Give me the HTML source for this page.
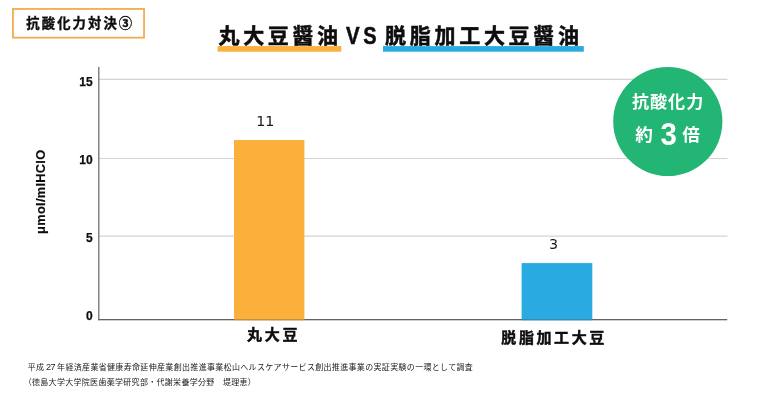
<!DOCTYPE html>
<html lang="ja">
<head>
<meta charset="utf-8">
<title>抗酸化力対決③ 丸大豆醤油 VS 脱脂加工大豆醤油</title>
<style>
  html, body { margin: 0; padding: 0; background: #fff; }
  body { width: 768px; height: 410px; position: relative; overflow: hidden;
         font-family: "Liberation Sans", "Noto Sans CJK JP", sans-serif; color: #0d0d0d; }
  .abs { position: absolute; white-space: nowrap; line-height: 1; }
  .jp { font-family: "Liberation Sans", "Noto Sans CJK JP", sans-serif; }

  /* tag */
  #tagtext { left: 26.3px; top: 16.8px; font-size: 13.3px; font-weight: 700; letter-spacing: 2.12px; -webkit-text-stroke: 0.35px #0d0d0d; }

  /* title */
  #t1 { left: 218.6px; top: 24.6px; font-size: 21px; font-weight: 700; letter-spacing: 3.6px; -webkit-text-stroke: 0.55px #0d0d0d; }
  #tvs { left: 345.8px; top: 24.9px; font-size: 23.5px; font-weight: 700; letter-spacing: 0; -webkit-text-stroke: 0.5px #0d0d0d; }
  #tvs span { display: inline-block; }
  #tvs .v { transform: scaleX(0.87); transform-origin: 0 50%; }
  #tvs .s { transform: scaleX(0.85); transform-origin: 100% 50%; margin-left: 0px; }
  #t2 { left: 385.1px; top: 24.6px; font-size: 21px; font-weight: 700; letter-spacing: 3.7px; -webkit-text-stroke: 0.55px #0d0d0d; }

  /* chart */
  .ytick { width: 20px; left: 72.6px; text-align: right; font-size: 12px; font-weight: 700; -webkit-text-stroke: 0.25px #0d0d0d; }
  .val { font-family: "DejaVu Sans", "Liberation Sans", sans-serif; font-size: 14.3px; font-weight: 400; letter-spacing: -0.1px; color: #1a1a1a; }
  .cat { font-size: 15px; font-weight: 700; letter-spacing: 2.6px; -webkit-text-stroke: 0.45px #0d0d0d; }
  #ylab { left: 0; top: 0; font-size: 12.8px; font-weight: 700; letter-spacing: 0.3px; transform-origin: 0 0;
          -webkit-text-stroke: 0.15px #0d0d0d;
          transform: translate(34.75px, 233.9px) rotate(-90deg); }

  /* circle */
  .w { color: #fff; font-weight: 700; }

  /* foot */
  .n { font-size: 9.1px; line-height: 0; letter-spacing: -0.55px; margin-right: 0.3px; }
  .foot { font-size: 8px; letter-spacing: 0.3px; color: #222; font-weight: 400; }
</style>
</head>
<body>
  <svg class="abs" id="chart" style="left:0;top:0" width="768" height="410" viewBox="0 0 768 410">
    <rect x="12.95" y="8.95" width="131.1" height="28.7" fill="#fff" stroke="#f1ad4c" stroke-width="1.8"/>
    <rect x="217.6" y="46.1" width="123.7" height="5.6" fill="#fbb03b"/>
    <rect x="383" y="46.1" width="200.8" height="5.6" fill="#29abe2"/>
    <g stroke="#d3d3d3" stroke-width="1.2">
      <line x1="99" y1="79.4" x2="727.5" y2="79.4"/>
      <line x1="99" y1="158.5" x2="727.5" y2="158.5"/>
      <line x1="99" y1="236.05" x2="727.5" y2="236.05"/>
    </g>
    <g stroke="#707070" stroke-width="1.3">
      <line x1="98.8" y1="67" x2="98.8" y2="320.25"/>
      <line x1="98.15" y1="319.6" x2="727.2" y2="319.6"/>
    </g>
    <rect x="234" y="140" width="70.4" height="180.3" fill="#fbb03b"/>
    <rect x="521.6" y="263.1" width="70.7" height="57.2" fill="#29abe2"/>
    <line x1="98.15" y1="319.65" x2="727.2" y2="319.65" stroke="#444" stroke-opacity="0.3" stroke-width="1.2"/>
    <circle cx="667.8" cy="121.5" r="54.6" fill="#22b573"/>
  </svg>

  <div class="abs jp" id="tagtext">抗酸化力対決③</div>

  <div class="abs jp" id="t1">丸大豆醤油</div>
  <div class="abs jp" id="tvs"><span class="v">V</span><span class="s">S</span></div>
  <div class="abs jp" id="t2">脱脂加工大豆醤油</div>

  <div class="abs ytick" style="top:76px">15</div>
  <div class="abs ytick" style="top:154px">10</div>
  <div class="abs ytick" style="top:232px">5</div>
  <div class="abs ytick" style="top:310px">0</div>

  <div class="abs" id="ylab">μmol/mlHClO</div>

  <div class="abs val" style="left:256.2px; top:114.1px">11</div>
  <div class="abs val" style="left:549px; top:236.8px">3</div>

  <div class="abs jp cat" style="left:246.9px; top:326.5px; letter-spacing:2.75px">丸大豆</div>
  <div class="abs jp cat" style="left:501.3px; top:329.8px">脱脂加工大豆</div>

  <div class="abs jp w" style="left:632px; top:94.3px; font-size:17.1px; letter-spacing:0.95px">抗酸化力</div>
  <div class="abs jp w" style="left:635.2px; top:126.8px; font-size:17.6px">約</div>
  <div class="abs jp w" style="left:660.1px; top:119.1px; font-size:31.7px; transform:scaleX(0.93)">3</div>
  <div class="abs jp w" style="left:682.3px; top:126.8px; font-size:17.6px">倍</div>

  <div class="abs jp foot" style="left:27.8px; top:364.2px; word-spacing:-0.9px; letter-spacing:0.327px">平成 <span class="n">27</span> 年経済産業省健康寿命延伸産業創出推進事業松山ヘルスケアサービス創出推進事業の実証実験の一環として調査</div>
  <div class="abs jp foot" style="left:23.7px; top:379.2px">（徳島大学大学院医歯薬学研究部・代謝栄養学分野　堤理恵）</div>
</body>
</html>
